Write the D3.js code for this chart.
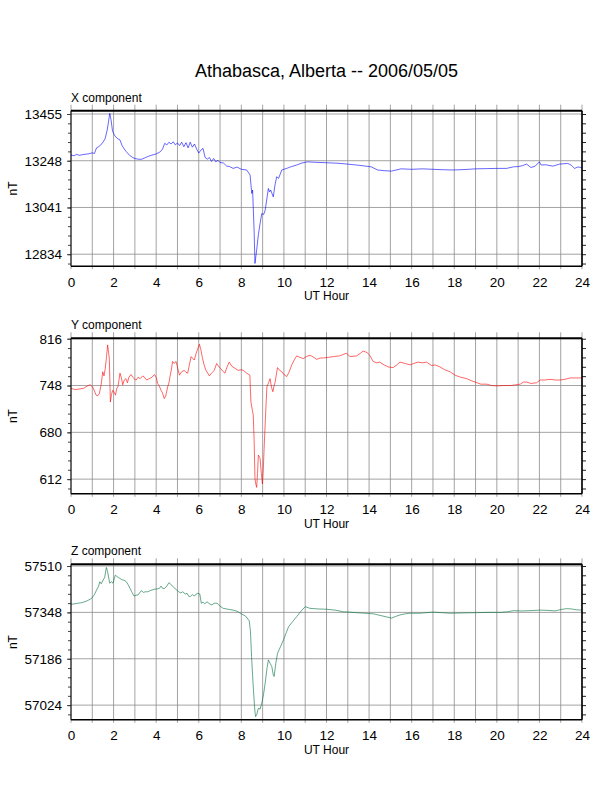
<!DOCTYPE html>
<html>
<head>
<meta charset="utf-8">
<script src="https://cdn.jsdelivr.net/npm/d3@7"></script>
<style>
  body { margin: 0; background: #fff; }
  text { font-family: "Liberation Sans", Arial, Helvetica, sans-serif; }
</style>
</head>
<body>
<div id="chart"></div>
<script>
// hours on the time axis
const hourTicks = d3.range(0, 25, 1);
const hourLabels = d3.range(0, 25, 2);

// X component (nT)
const xHours = [0.00,0.15,0.25,0.40,0.55,0.70,0.85,1.00,1.10,1.20,1.30,1.40,1.50,1.60,1.70,1.76,1.82,1.88,1.95,2.00,
  2.05,2.10,2.20,2.30,2.40,2.50,2.60,2.75,2.90,3.00,3.15,3.30,3.50,3.65,3.80,4.00,4.20,4.30,4.40,4.50,
  4.60,4.70,4.80,4.90,5.00,5.10,5.20,5.30,5.40,5.50,5.60,5.70,5.80,5.90,6.00,6.10,6.20,6.30,6.40,6.50,
  6.60,6.70,6.80,6.90,7.00,7.16,7.30,7.45,7.62,7.80,8.00,8.25,8.41,8.49,8.53,8.60,8.64,8.72,8.80,8.88,
  8.96,9.05,9.12,9.20,9.27,9.33,9.38,9.50,9.58,9.66,9.75,9.90,10.13,10.35,10.60,10.85,11.10,11.50,12.00,12.50,
  13.00,13.50,14.10,14.40,14.70,15.05,15.50,16.00,16.50,17.00,17.50,17.96,18.50,19.00,19.50,19.99,20.46,20.78,21.00,21.20,
  21.40,21.60,21.80,22.00,22.08,22.30,22.63,22.94,23.33,23.50,23.65,23.80,24.00];
const xValues = [13273,13270,13276,13272,13275,13277,13279,13283,13280,13305,13310,13318,13330,13345,13384,13420,13458,13430,13380,13369,
  13360,13354,13345,13340,13315,13300,13288,13272,13262,13258,13255,13254,13262,13268,13273,13278,13288,13300,13325,13318,
  13330,13322,13332,13318,13327,13315,13330,13310,13328,13305,13330,13308,13322,13300,13282,13295,13303,13262,13255,13262,
  13245,13258,13243,13250,13240,13238,13225,13222,13214,13220,13210,13207,13185,13103,13118,12940,12793,12852,12920,12970,
  13014,13010,13029,13080,13125,13110,13118,13088,13140,13177,13170,13207,13214,13222,13229,13238,13243,13241,13239,13237,
  13233,13228,13221,13207,13204,13202,13212,13210,13212,13210,13208,13207,13209,13212,13213,13214,13214,13221,13222,13226,
  13233,13218,13224,13243,13229,13230,13224,13233,13236,13228,13214,13220,13218];
const xTicks = [13455, 13248, 13041, 12834];

// Y component (nT)
const yHours = [0.00,0.20,0.40,0.60,0.80,0.90,1.02,1.10,1.18,1.25,1.33,1.42,1.49,1.55,1.61,1.67,1.72,1.77,1.80,1.85,
  1.90,1.96,2.03,2.09,2.15,2.20,2.25,2.30,2.36,2.43,2.50,2.58,2.65,2.72,2.82,2.90,3.00,3.06,3.15,3.25,
  3.37,3.45,3.55,3.68,3.80,3.92,4.00,4.07,4.15,4.23,4.30,4.38,4.45,4.54,4.60,4.65,4.72,4.77,4.85,4.93,
  5.00,5.09,5.20,5.32,5.40,5.48,5.56,5.64,5.70,5.79,5.88,5.96,6.03,6.10,6.18,6.25,6.34,6.42,6.50,6.60,
  6.73,6.84,6.95,7.05,7.15,7.23,7.33,7.43,7.55,7.70,7.85,8.00,8.09,8.25,8.40,8.45,8.52,8.56,8.60,8.64,
  8.68,8.72,8.76,8.80,8.84,8.88,8.94,8.99,9.03,9.07,9.13,9.20,9.28,9.35,9.42,9.48,9.54,9.59,9.65,9.70,
  9.80,9.90,10.00,10.13,10.25,10.37,10.50,10.60,10.75,10.91,11.05,11.23,11.40,11.54,11.70,11.85,12.10,12.32,12.60,12.94,
  13.10,13.41,13.60,13.72,13.90,14.03,14.19,14.35,14.50,14.70,14.90,15.13,15.30,15.45,15.70,15.92,16.10,16.30,16.50,16.70,
  16.94,17.10,17.33,17.55,17.80,18.04,18.30,18.59,18.80,18.98,19.25,19.52,19.75,20.00,20.30,20.63,20.90,21.10,21.25,21.40,
  21.60,21.87,22.03,22.25,22.50,22.75,22.97,23.20,23.44,23.70,24.00];
const yValues = [744,742,743,744,748,749,746,740,734,733,736,750,768,762,773,790,807,795,787,724,
  735,741,738,734,744,746,755,766,760,749,756,758,752,760,764,760,757,756,760,758,
  762,760,756,758,760,764,760,751,747,741,737,729,733,746,752,761,772,783,780,783,
  775,763,768,770,767,766,778,790,788,785,795,802,808,800,787,778,770,766,762,766,
  770,780,775,772,768,766,775,782,776,773,770,771,770,766,763,724,712,705,670,613,
  605,600,620,647,645,642,620,605,625,656,700,746,752,758,745,739,748,753,765,774,
  770,768,764,761,768,778,786,791,789,787,790,792,789,786,788,788,789,790,791,795,
  790,791,795,798,796,792,783,781,782,778,775,774,778,782,780,778,780,782,781,782,
  777,778,775,771,768,763,760,758,755,753,750,750,748,747.5,748,748,749,750,753,753,
  751,752,756,756,757,756,756,757,759,759,759];
const yTicks = [816, 748, 680, 612];

// Z component (nT)
const zHours = [0.00,0.25,0.50,0.75,0.97,1.10,1.20,1.30,1.35,1.42,1.51,1.58,1.66,1.72,1.78,1.82,1.90,1.97,2.03,2.08,
  2.15,2.22,2.29,2.40,2.50,2.60,2.72,2.85,2.96,3.05,3.15,3.22,3.30,3.40,3.50,3.60,3.75,3.92,4.05,4.15,
  4.23,4.30,4.40,4.50,4.60,4.70,4.80,4.90,5.06,5.15,5.25,5.37,5.45,5.52,5.60,5.70,5.80,5.88,5.96,6.05,
  6.12,6.20,6.28,6.39,6.50,6.62,6.72,6.86,7.00,7.15,7.30,7.45,7.62,7.80,8.00,8.20,8.37,8.43,8.48,8.55,
  8.60,8.64,8.67,8.72,8.80,8.88,8.96,9.04,9.12,9.20,9.27,9.35,9.43,9.50,9.54,9.62,9.70,9.85,9.98,10.10,
  10.22,10.40,10.60,10.80,11.00,11.23,11.60,12.00,12.40,12.80,13.10,13.40,13.80,14.20,14.60,15.06,15.25,15.45,15.70,15.92,
  16.40,17.00,17.40,17.80,18.40,19.05,19.60,20.15,20.50,20.78,21.20,21.56,22.03,22.40,22.74,23.00,23.28,23.50,23.75,24.00];
const zValues = [57376,57379,57382,57388,57397,57410,57426,57440,57455,57448,57461,57470,57505,57490,57465,57450,57455,57450,57465,57478,
  57474,57470,57467,57462,57460,57455,57440,57420,57405,57408,57409,57416,57424,57418,57420,57420,57425,57429,57430,57432,
  57440,57432,57432,57440,57452,57445,57438,57430,57420,57416,57420,57412,57415,57405,57403,57410,57405,57412,57415,57412,
  57380,57384,57378,57385,57378,57374,57380,57380,57370,57362,57360,57358,57356,57352,57343,57335,57319,57280,57194,57100,
  57042,57000,56984,56990,57013,57010,57031,57060,57101,57150,57182,57170,57159,57130,57124,57170,57205,57230,57252,57275,
  57298,57315,57333,57352,57368,57362,57360,57359,57356,57350,57349,57347,57345,57343,57336,57328,57334,57339,57343,57345,
  57345,57349,57347,57345,57346,57347,57348,57348,57350,57354,57353,57354,57356,57355,57353,57358,57361,57360,57357,57356];
const zTicks = [57510, 57348, 57186, 57024];

const width = 612, height = 792;
const left = 71, right = 582, panelH = 155.5;

// one entry per panel, built from the arrays above
const panels = [
  { title: "X component", hours: xHours, values: xValues, ticks: xTicks, domain: [12780.8, 13469.6], color: "#0000ff", top: 110.7 },
  { title: "Y component", hours: yHours, values: yValues, ticks: yTicks, domain: [590.7, 816.6], color: "#ff0000", top: 338.3 },
  { title: "Z component", hours: zHours, values: zValues, ticks: zTicks, domain: [56972.7, 57516], color: "#006e3c", top: 564.3 }
];

const svg = d3.select("#chart").append("svg")
  .attr("width", width)
  .attr("height", height);

svg.append("text")
  .attr("x", (left + right) / 2)
  .attr("y", 77)
  .attr("text-anchor", "middle")
  .style("font-size", "18px")
  .text("Athabasca, Alberta -- 2006/05/05");

const x = d3.scaleLinear().domain([0, 24]).range([left, right]);

panels.forEach(function(p) {
  const bottom = p.top + panelH;
  const y = d3.scaleLinear().domain(p.domain).range([bottom, p.top]);
  // minor ticks every fifth of a major interval
  const step = (p.ticks[0] - p.ticks[1]) / 5;
  const minorTicks = d3.range(-5, 25).map(k => p.ticks[0] - k * step)
    .filter(v => v >= p.domain[0] && v <= p.domain[1]);

  const g = svg.append("g");

  // vertical grid, poking out above the frame like ticks
  g.append("g").selectAll("line")
    .data(hourTicks)
    .join("line")
    .attr("x1", d => x(d)).attr("x2", d => x(d))
    .attr("y1", p.top - 6).attr("y2", bottom + 3)
    .attr("stroke", "#8c8c8c")
    .attr("stroke-width", 0.8);

  // horizontal grid at labelled values
  g.append("g").selectAll("line")
    .data(p.ticks)
    .join("line")
    .attr("x1", left).attr("x2", right)
    .attr("y1", d => y(d)).attr("y2", d => y(d))
    .attr("stroke", "#8c8c8c")
    .attr("stroke-width", 0.8);

  // data
  const pts = p.hours.map((h, i) => [h, p.values[i]]);
  g.append("path")
    .datum(pts)
    .attr("fill", "none")
    .attr("stroke", p.color)
    .attr("stroke-width", 0.6)
    .attr("d", d3.line().x(d => x(d[0])).y(d => y(d[1])));

  // left axis: labels + minor ticks
  const leftAxis = g.append("g")
    .attr("transform", `translate(${left},0)`)
    .call(d3.axisLeft(y).tickValues(p.ticks).tickSize(4).tickPadding(5).tickFormat(d3.format("d")));
  leftAxis.select(".domain").remove();
  leftAxis.selectAll("text").style("font-size", "13.5px").attr("fill", "#000");
  leftAxis.selectAll("line").attr("stroke", "#444");

  const leftMinor = g.append("g")
    .attr("transform", `translate(${left},0)`)
    .call(d3.axisLeft(y).tickValues(minorTicks).tickSize(3).tickFormat(""));
  leftMinor.select(".domain").remove();
  leftMinor.selectAll("line").attr("stroke", "#444");

  // right axis ticks only
  const rightAxis = g.append("g")
    .attr("transform", `translate(${right},0)`)
    .call(d3.axisRight(y).tickValues(minorTicks).tickSize(4).tickFormat(""));
  rightAxis.select(".domain").remove();
  rightAxis.selectAll("line").attr("stroke", "#222");

  // bottom axis labels
  const bottomAxis = g.append("g")
    .attr("transform", `translate(0,${bottom})`)
    .call(d3.axisBottom(x).tickValues(hourLabels).tickSize(0).tickPadding(11).tickFormat(d3.format("d")));
  bottomAxis.select(".domain").remove();
  bottomAxis.selectAll("text").style("font-size", "13.5px").attr("fill", "#000");

  // frame
  g.append("line").attr("x1", left).attr("x2", right).attr("y1", p.top).attr("y2", p.top)
    .attr("stroke", "#000").attr("stroke-width", 2);
  g.append("line").attr("x1", left).attr("x2", right).attr("y1", bottom).attr("y2", bottom)
    .attr("stroke", "#000").attr("stroke-width", 1.6);
  g.append("line").attr("x1", left).attr("x2", left).attr("y1", p.top).attr("y2", bottom)
    .attr("stroke", "#000").attr("stroke-width", 1);
  g.append("line").attr("x1", right).attr("x2", right).attr("y1", p.top).attr("y2", bottom)
    .attr("stroke", "#000").attr("stroke-width", 1.6);

  // panel title
  g.append("text")
    .attr("x", left)
    .attr("y", p.top - 9)
    .style("font-size", "12px")
    .text(p.title);

  // axis titles
  g.append("text")
    .attr("x", (left + right) / 2)
    .attr("y", bottom + 34)
    .attr("text-anchor", "middle")
    .style("font-size", "12px")
    .text("UT Hour");

  g.append("text")
    .attr("transform", `translate(16.5,${p.top + panelH / 2}) rotate(-90)`)
    .attr("text-anchor", "middle")
    .style("font-size", "12px")
    .text("nT");
});
</script>
</body>
</html>
